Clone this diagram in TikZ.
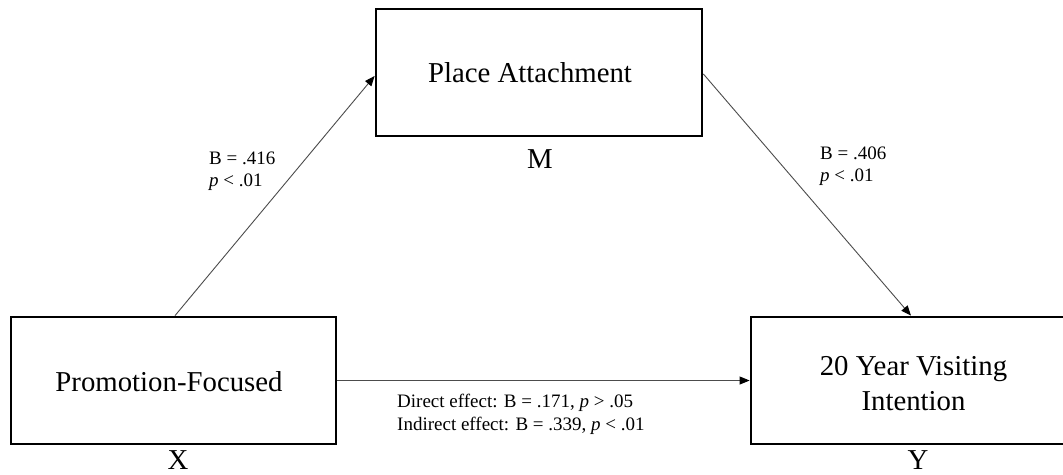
\documentclass[tikz,border=0pt]{standalone}
\usepackage{fontspec}
\setmainfont{Liberation Serif}
\usetikzlibrary{arrows.meta}
\begin{document}
\begin{tikzpicture}[x=1pt,y=-1pt,
  box/.style={draw=black,line width=2.8pt,minimum width=#1,minimum height=127pt,inner sep=0pt},
  boxtext/.style={font=\fontsize{28.8}{35}\selectfont,inner sep=0pt,align=center},
  varlbl/.style={font=\fontsize{28.8}{35}\selectfont,anchor=base,inner sep=0pt},
  lbl/.style={font=\fontsize{19}{22.5}\selectfont,anchor=base west,inner sep=0pt,align=left},
  conn/.style={draw=black!70,line width=0.9pt,-{Triangle[length=10pt,width=8pt,color=black]}}]
\clip (0,0) rectangle (1063,474);
\fill[white] (0,0) rectangle (1063,474);
% boxes
\node[box=326pt] (M) at (539,72.5) {};
\node[box=325pt] (X) at (173.5,380.5) {};
\node[box=320pt] (Y) at (911,380.5) {};
% box texts
\node[boxtext,anchor=base] (Mt) at (530,82) {Place Attachment};
\node[boxtext,anchor=base] (Xt) at (169,391) {Promotion-Focused};
\node[boxtext,anchor=center] (Yt) at (913.5,383.7) {20 Year Visiting\\Intention};
% variable letters
\node[varlbl] (Ml) at (540,168) {M};
\node[varlbl] (Xl) at (178,469.5) {X};
\node[varlbl] (Yl) at (918,469.5) {Y};
% connectors
\draw[conn] ([xshift=1.5pt]X.north) -- ([yshift=-3.5pt]M.west);
\draw[conn] ([yshift=-1.5pt]M.east) -- (Y.north);
\draw[conn] (X.east) -- (Y.west);
% path labels (base = baseline of last line)
\node[lbl] (a) at (209,186.5) {B = .416\\\textit{p} < .01};
\node[lbl] (b) at (820,181.5) {B = .406\\\textit{p} < .01};
\node[lbl] (c) at (397,430) {Direct effect: B = .171, \textit{p} > .05\\Indirect effect: B = .339, \textit{p} < .01};
\end{tikzpicture}
\end{document}
